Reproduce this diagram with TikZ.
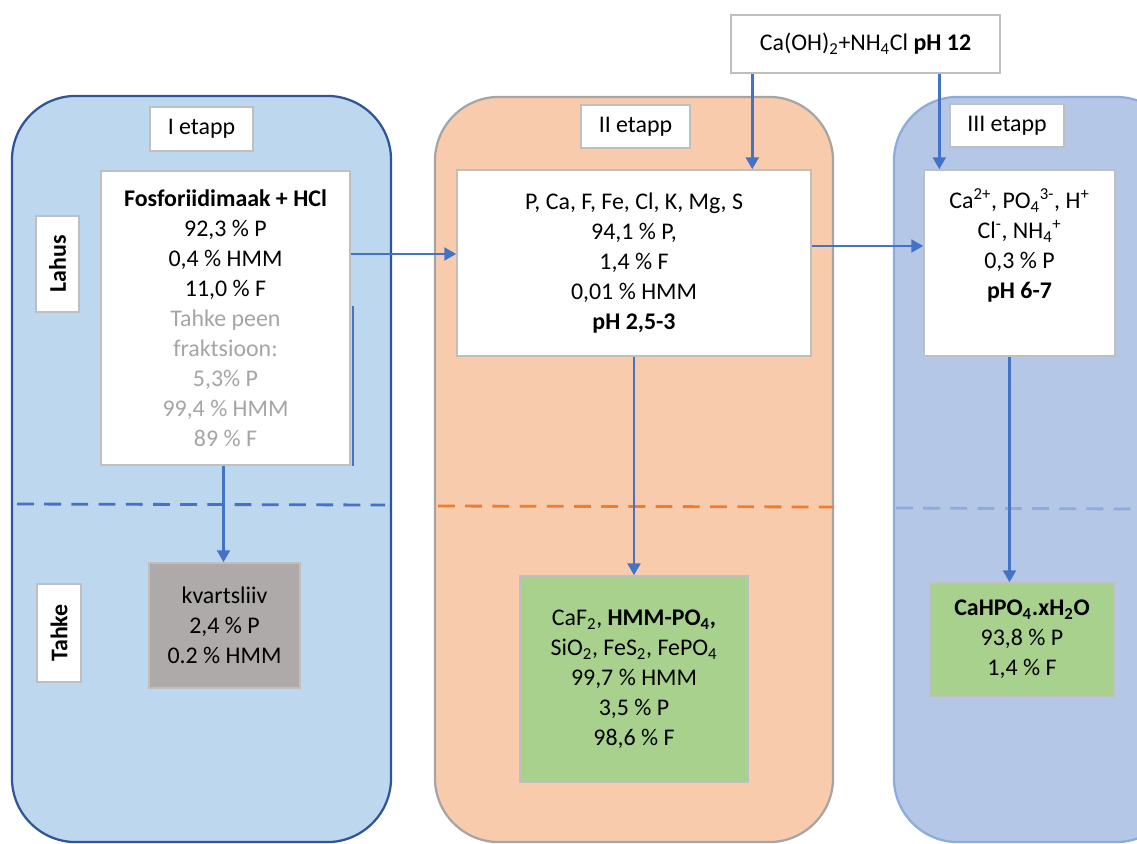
\documentclass[tikz,border=0pt]{standalone}
\usepackage{fontspec}
\setmainfont{Carlito}
\usetikzlibrary{arrows.meta, positioning, calc}
\definecolor{stageoneblue}{RGB}{189, 215, 238}
\definecolor{stageoneedge}{RGB}{47, 85, 151}
\definecolor{stagetwoorange}{RGB}{248, 203, 173}
\definecolor{stagetwoedge}{RGB}{165, 165, 165}
\definecolor{stagethreeblue}{RGB}{180, 199, 231}
\definecolor{stagethreeedge}{RGB}{143, 170, 220}
\definecolor{flowblue}{RGB}{68, 114, 196}
\definecolor{lineorange}{RGB}{237, 125, 49}
\definecolor{solidgreen}{RGB}{169, 209, 142}
\definecolor{sandgray}{RGB}{174, 170, 170}
\definecolor{boxedge}{RGB}{191, 191, 191}
\definecolor{finegray}{RGB}{165, 165, 165}
\newcommand{\chemsub}[1]{\textsubscript{#1}}
\newcommand{\chemsup}[1]{\textsuperscript{#1}}

\begin{document}
\begin{tikzpicture}[
        x=0.025cm, y=-0.025cm,
        font=\fontsize{17}{21.3}\selectfont,
        panel/.style={draw, line width=1.6pt, rounded corners=1.6cm, inner sep=0pt},
        block/.style={draw=boxedge, line width=1pt, fill=white, align=center, inner sep=2pt},
        tag/.style={draw=boxedge, line width=1pt, fill=white, align=center, inner sep=1pt},
        arrow/.style={-{Triangle[length=0.3cm, width=0.32cm]}, draw=flowblue, line width=2pt},
        border/.style={dash pattern=on 0.42cm off 0.26cm, line width=2pt}
    ]
        \clip (0,0) rectangle (1137,843);

        % Stage panels
        \node[panel, draw=stageoneedge, fill=stageoneblue, minimum width=9.475cm, minimum height=18.65cm] (etappI) at (201.5, 469) {};
        \node[panel, draw=stagetwoedge, fill=stagetwoorange, minimum width=9.95cm, minimum height=18.625cm] (etappII) at (634, 469.5) {};
        \node[panel, draw=stagethreeedge, fill=stagethreeblue, minimum width=7.15cm, minimum height=18.625cm] (etappIII) at (1037, 469.5) {};

        % Lahus / Tahke borders
        \draw[border, draw=flowblue] (17, 504) -- (385, 505);
        \draw[border, draw=lineorange] (438, 506) -- (833, 507);
        \draw[border, draw=stagethreeedge] (896, 508) -- (1137, 509);

        % Stage tags
        \node[tag, minimum width=2.575cm, minimum height=1.1cm] (tagI) at (201.5, 129) {I etapp};
        \node[tag, minimum width=2.725cm, minimum height=1.075cm] (tagII) at (635.5, 126.5) {II etapp};
        \node[tag, minimum width=2.85cm, minimum height=1.075cm] (tagIII) at (1007, 125.5) {III etapp};

        \node[tag, rotate=90, minimum width=2.4cm, minimum height=1.075cm, font=\fontsize{17}{21.3}\selectfont\bfseries] (lahus) at (57.5, 264) {Lahus};
        \node[tag, rotate=90, minimum width=2.45cm, minimum height=1.1cm, font=\fontsize{17}{21.3}\selectfont\bfseries] (tahke) at (59, 633) {Tahke};

        % Reagent
        \node[block, minimum width=6.725cm, minimum height=1.45cm] (reagent) at (865.5, 44) {Ca(OH)\chemsub{2}+NH\chemsub{4}Cl \textbf{pH 12}};

        % Solutions
        \node[block, minimum width=6.225cm, minimum height=7.35cm] (leach) at (225.5, 318) {
            \textbf{Fosforiidimaak + HCl}\\
            92,3 \% P\\
            0,4 \% HMM\\
            11,0 \% F\\
            \textcolor{finegray}{Tahke peen}\\
            \textcolor{finegray}{fraktsioon:}\\
            \textcolor{finegray}{5,3\% P}\\
            \textcolor{finegray}{99,4 \% HMM}\\
            \textcolor{finegray}{89 \% F}
        };

        \node[block, minimum width=8.85cm, minimum height=4.65cm] (sol2) at (634, 263) {
            P, Ca, F, Fe, Cl, K, Mg, S\\
            94,1 \% P,\\
            1,4 \% F\\
            0,01 \% HMM\\
            \textbf{pH 2,5-3}
        };

        \node[block, minimum width=4.775cm, minimum height=4.65cm] (sol3) at (1019.5, 263) {
            Ca\chemsup{2+}, PO\chemsub{4}\chemsup{3-}, H\chemsup{+}\\
            Cl\chemsup{-}, NH\chemsub{4}\chemsup{+}\\
            0,3 \% P\\
            \textbf{pH 6-7}\\
            \strut
        };

        % Solids
        \node[block, draw=boxedge, fill=sandgray, minimum width=3.775cm, minimum height=3.125cm] (kvarts) at (224.5, 625.5) {
            kvartsliiv\\
            2,4 \% P\\
            0.2 \% HMM
        };

        \node[block, fill=solidgreen, minimum width=5.7cm, minimum height=5.15cm] (solid2) at (634, 679) {
            CaF\chemsub{2}, \textbf{HMM-PO\chemsub{4},}\\
            SiO\chemsub{2}, FeS\chemsub{2}, FePO\chemsub{4}\\
            99,7 \% HMM\\
            3,5 \% P\\
            98,6 \% F
        };

        \node[block, fill=solidgreen, minimum width=4.6cm, minimum height=2.825cm] (solid3) at (1022, 639.5) {
            \textbf{CaHPO\chemsub{4}.xH\chemsub{2}O}\\
            93,8 \% P\\
            1,4 \% F
        };

        % Arrows
        \draw[arrow] ([yshift=1.6cm]leach.east) -- ([yshift=1.6cm]leach.east -| sol2.west);
        \draw[arrow] (sol2.east |- 0,246) -- (sol3.west |- 0,246);
        \draw[arrow] ([xshift=-0.05cm]leach.south) -- ([xshift=-0.05cm]leach.south |- kvarts.north);
        \draw[arrow] (sol2.south) -- (solid2.north);
        \draw[arrow] ([xshift=-0.25cm]sol3.south) -- ([xshift=-0.25cm]sol3.south |- solid3.north);
        \draw[arrow] ([xshift=0.55cm]reagent.south west) -- ([xshift=0.55cm]reagent.south west |- sol2.north);
        \draw[arrow] ([xshift=5.225cm]reagent.south west) -- ([xshift=5.225cm]reagent.south west |- sol3.north);
        \draw[draw=flowblue, line width=1.5pt] ([xshift=0.05cm]leach.south east) -- ++(0, -160);
    \end{tikzpicture}
\end{document}
